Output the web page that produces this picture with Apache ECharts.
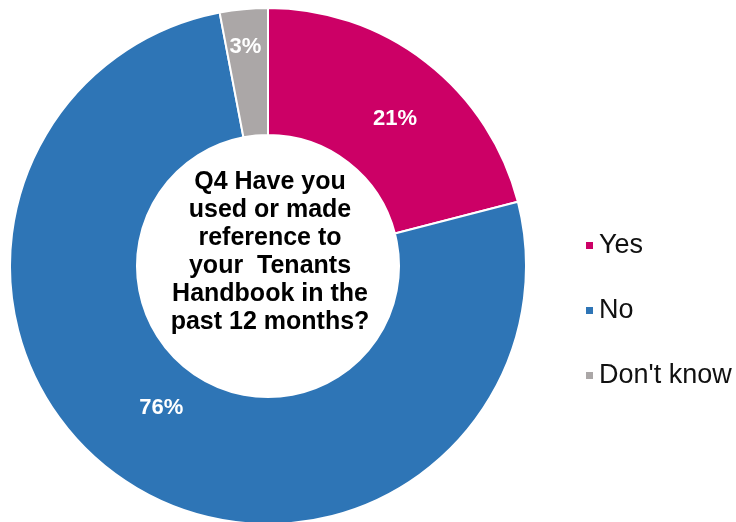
<!DOCTYPE html>
<html>
<head>
<meta charset="utf-8">
<script src="https://cdn.jsdelivr.net/npm/echarts@6/dist/echarts.min.js"></script>
<style>
  html, body { margin: 0; padding: 0; background: #fff; }
  #chart { width: 736px; height: 522px; }
</style>
</head>
<body>
<div id="chart"></div>
<script>
var categories = ['Yes', 'No', "Don't know"];
var values = [21, 76, 3];
var colors = ['#CC0066', '#2E75B6', '#ABA7A7'];
// nudges so labels sit where the original placed them
var labelOffsets = [[6, 9], [-1, -25], [-4, -22]];

var question = 'Q4 Have you\nused or made\nreference to\nyour  Tenants\nHandbook in the\npast 12 months?';

var myChart = echarts.init(document.getElementById('chart'));

var data = [];
for (var i = 0; i < categories.length; i++) {
  data.push({
    name: categories[i],
    value: values[i],
    itemStyle: { color: colors[i] },
    label: { offset: labelOffsets[i] }
  });
}

var option = {
  animation: false,
  legend: {
    orient: 'vertical',
    left: 579,
    top: 227,
    itemWidth: 9,
    itemHeight: 9,
    itemGap: 38,
    icon: 'rect',
    data: categories,
    textStyle: {
      fontFamily: 'Liberation Sans, Arial, sans-serif',
      fontSize: 27,
      color: '#111'
    }
  },
  graphic: [{
    type: 'text',
    x: 270,
    y: 252,
    style: {
      text: question,
      textAlign: 'center',
      textVerticalAlign: 'middle',
      fontFamily: 'Liberation Sans, Arial, sans-serif',
      fontWeight: 'bold',
      fontSize: 25,
      lineHeight: 28,
      fill: '#000'
    }
  }],
  series: [{
    type: 'pie',
    center: [268, 266],
    radius: [131, 258],
    startAngle: 90,
    clockwise: true,
    avoidLabelOverlap: false,
    itemStyle: { borderColor: '#fff', borderWidth: 2 },
    label: {
      show: true,
      position: 'inside',
      formatter: '{c}%',
      color: '#fff',
      fontFamily: 'Liberation Sans, Arial, sans-serif',
      fontWeight: 'bold',
      fontSize: 22
    },
    labelLine: { show: false },
    emphasis: { disabled: true },
    data: data
  }]
};

myChart.setOption(option);
</script>
</body>
</html>
